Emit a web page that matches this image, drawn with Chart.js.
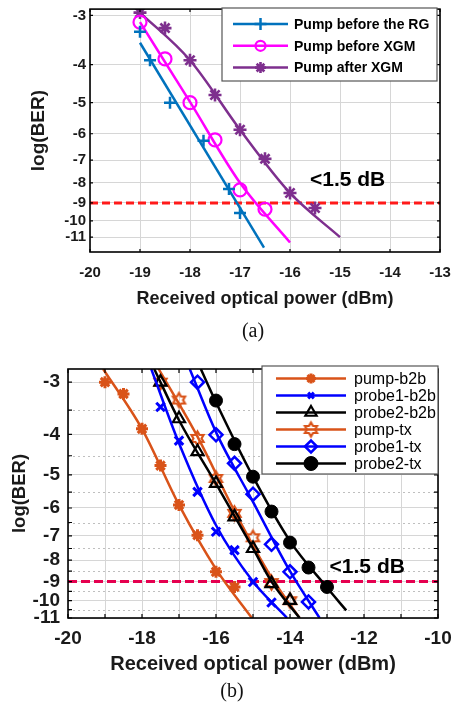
<!DOCTYPE html>
<html>
<head>
<meta charset="utf-8">
<script src="https://cdn.jsdelivr.net/npm/chart.js@4.4.1/dist/chart.umd.min.js"></script>
<style>
  body { margin: 0; background: #fff; width: 452px; height: 704px; position: relative; overflow: hidden; }
  canvas { position: absolute; left: 0; }
  #ca { top: 0; }
  #cb { top: 350px; }
  .cap { position: absolute; width: 80px; text-align: center; font: 20px "Liberation Serif", "Times New Roman", serif; line-height: 24px; color: #111; }
</style>
</head>
<body>
<canvas id="ca" width="452" height="320"></canvas>
<div class="cap" style="left:213px;top:318px">(a)</div>
<canvas id="cb" width="452" height="332"></canvas>
<div class="cap" style="left:192px;top:678px">(b)</div>
<script>
// ---- chart (a) : x = received power (dBm), y = log(BER)
var xTicksA = [-20, -19, -18, -17, -16, -15, -14, -13];
var yTicksA = [-3, -4, -5, -6, -7, -8, -9, -10, -11];

var rgX = [-19, -18.8, -18.4, -17.73, -17.22, -17];
var rgY = [-3.3, -3.9, -5.0, -6.25, -8.3, -9.55];
var rgFitX = [-19, -16.52];
var rgFitY = [-3.52, -11.7];

var xgmInX = [-19, -18.5, -18, -17.5, -17, -16.5];
var xgmInY = [-3.12, -3.87, -5.0, -6.22, -8.34, -9.34];
var xgmInFitX = [-19, -18, -17, -16];
var xgmInFitY = [-3.12, -4.98, -8.0, -11.35];

var xgmOutX = [-19, -18.5, -18, -17.5, -17, -16.5, -16, -15.5];
var xgmOutY = [-2.95, -3.23, -3.9, -4.78, -5.86, -6.95, -8.49, -9.27];
var xgmOutFitX = [-19, -18, -17, -16, -15];
var xgmOutFitY = [-2.95, -3.9, -5.86, -8.49, -11.0];

var fecAX = [-20, -13];
var fecAY = [-9, -9];

// ---- chart (b)
var xTicksB = [-20, -19, -18, -17, -16, -15, -14, -13, -12, -11, -10];
var yTicksB = [-3, -4, -5, -6, -7, -8, -9, -10, -11];
var yMinorB = [-3.5, -4.5, -5.5, -6.5, -7.5, -8.5, -9.5, -10.5];

var pumpB2bX = [-19, -18.5, -18, -17.5, -17, -16.5, -16, -15.5];
var pumpB2bY = [-3.0, -3.2, -3.88, -4.75, -5.9, -6.97, -8.53, -9.27];
var pumpB2bFitX = [-19.05, -18, -17, -16, -15.03];
var pumpB2bFitY = [-2.79, -3.88, -5.9, -8.4, -11.0];

var probe1B2bX = [-17.5, -17, -16.5, -16, -15.5, -15, -14.5];
var probe1B2bY = [-3.44, -4.14, -5.49, -6.84, -7.57, -9.02, -10.1];
var probe1B2bFitX = [-17.75, -17, -16, -15, -14.08];
var probe1B2bFitY = [-2.79, -4.2, -6.6, -9.0, -11.0];

var probe2B2bX = [-17.5, -17, -16.5, -16, -15.5, -15, -14.5, -14];
var probe2B2bY = [-3.0, -3.67, -4.4, -5.24, -6.3, -7.5, -9.1, -9.98];
var probe2B2bFitX = [-17.67, -17, -16, -15, -14.5, -13.74];
var probe2B2bFitY = [-2.79, -3.7, -5.25, -7.5, -9.0, -11.0];

var pumpTxX = [-17.5, -17, -16.5, -16, -15.5, -15, -14.5, -14];
var pumpTxY = [-3.0, -3.31, -4.09, -5.1, -6.18, -7.07, -9.05, -10.0];
var pumpTxFitX = [-17.55, -16.5, -15.5, -14.5, -13.74];
var pumpTxFitY = [-2.79, -4.05, -6.1, -8.8, -11.0];

var probe1TxX = [-16.5, -16, -15.5, -15, -14.5, -14, -13.5];
var probe1TxY = [-3.0, -4.01, -4.69, -5.56, -7.33, -8.53, -10.07];
var probe1TxFitX = [-16.71, -16, -15, -14, -13.2];
var probe1TxFitY = [-2.79, -3.95, -5.8, -8.5, -11.0];

var probe2TxX = [-16, -15.5, -15, -14.5, -14, -13.5, -13];
var probe2TxY = [-3.32, -4.22, -5.05, -6.12, -7.26, -8.33, -9.27];
var probe2TxFitX = [-16.41, -16, -15, -14, -13, -12.48];
var probe2TxFitY = [-2.79, -3.35, -5.05, -7.2, -9.3, -10.55];

var fecBX = [-20, -10];
var fecBY = [-9, -9];

var noteText = '<1.5 dB';
var noteA = { x: -15.6, y: -7.9 };
var noteB = { x: -12.93, y: -8.3 };

var sans = '"Liberation Sans", Arial, Helvetica, sans-serif';
Chart.defaults.font.family = sans;
Chart.defaults.color = '#1a1a1a';

// y is plotted as -log(BER) on a reversed log axis (BER scale)
function pts(xs, ys) {
  return xs.map(function (x, i) { return { x: x, y: -ys[i] }; });
}

function markers(label, xs, ys, color, style, r, bw, fill, legendR) {
  return {
    label: label, data: pts(xs, ys), showLine: false, inLegend: true,
    borderColor: color, backgroundColor: fill,
    pointStyle: style, pointRadius: r, pointHoverRadius: r,
    pointBorderWidth: bw, pointBorderColor: color, pointBackgroundColor: fill,
    legendRadius: legendR || r
  };
}

function fitLine(xs, ys, color) {
  return {
    data: pts(xs, ys), showLine: true, borderColor: color, borderWidth: 2.5,
    pointRadius: 0, pointHoverRadius: 0, cubicInterpolationMode: 'monotone', fill: false
  };
}

function dashed(xs, ys, color, dash) {
  return {
    data: pts(xs, ys), showLine: true, borderColor: color, borderWidth: 3,
    borderDash: dash, pointRadius: 0, pointHoverRadius: 0, fill: false
  };
}

function hexagram(r, color, lw) {
  var c = document.createElement('canvas');
  var s = Math.ceil(2 * r + lw + 2);
  c.width = s; c.height = s;
  var g = c.getContext('2d');
  var m = s / 2;
  g.strokeStyle = color; g.lineWidth = lw; g.lineJoin = 'miter';
  g.beginPath();
  for (var k = 0; k < 12; k++) {
    var a = -Math.PI / 2 + k * Math.PI / 6;
    var rr = k % 2 ? r / Math.sqrt(3) : r;
    var px = m + rr * Math.cos(a), py = m + rr * Math.sin(a);
    if (k) g.lineTo(px, py); else g.moveTo(px, py);
  }
  g.closePath();
  g.stroke();
  return c;
}

// black box, inside tick marks, minor dotted grid
var frameBox = {
  id: 'frameBox',
  beforeDatasetsDraw: function (chart, args, o) {
    if (!o.minorY) return;
    var ctx = chart.ctx, a = chart.chartArea, ys = chart.scales.y;
    ctx.save();
    ctx.strokeStyle = o.minorColor; ctx.lineWidth = 1; ctx.setLineDash([2, 3]);
    o.minorY.forEach(function (v) {
      var y = Math.round(ys.getPixelForValue(-v)) + 0.5;
      ctx.beginPath(); ctx.moveTo(a.left, y); ctx.lineTo(a.right, y); ctx.stroke();
    });
    ctx.restore();
  },
  afterDatasetsDraw: function (chart, args, o) {
    var ctx = chart.ctx, a = chart.chartArea, xs = chart.scales.x, ys = chart.scales.y;
    var len = o.tick;
    ctx.save();
    ctx.strokeStyle = '#000'; ctx.lineWidth = 1.2;
    ctx.beginPath();
    xs.ticks.forEach(function (t) {
      var x = xs.getPixelForValue(t.value);
      ctx.moveTo(x, a.bottom); ctx.lineTo(x, a.bottom - len);
      ctx.moveTo(x, a.top); ctx.lineTo(x, a.top + len);
    });
    o.yAll.forEach(function (v) {
      var y = ys.getPixelForValue(-v);
      ctx.moveTo(a.left, y); ctx.lineTo(a.left + len, y);
      ctx.moveTo(a.right, y); ctx.lineTo(a.right - len, y);
    });
    ctx.stroke();
    ctx.lineWidth = 1.6;
    ctx.strokeRect(a.left, a.top, a.right - a.left, a.bottom - a.top);
    ctx.restore();
  }
};

var noteLabel = {
  id: 'noteLabel',
  afterDatasetsDraw: function (chart, args, o) {
    var ctx = chart.ctx;
    ctx.save();
    ctx.fillStyle = '#000';
    ctx.font = 'bold ' + o.size + 'px ' + sans;
    ctx.textAlign = 'left'; ctx.textBaseline = 'middle';
    ctx.fillText(o.text, chart.scales.x.getPixelForValue(o.at.x), chart.scales.y.getPixelForValue(-o.at.y));
    ctx.restore();
  }
};

// MATLAB style legend box: line + marker + label
var boxLegend = {
  id: 'boxLegend',
  afterDraw: function (chart, args, o) {
    var ctx = chart.ctx;
    var items = chart.data.datasets.filter(function (d) { return d.inLegend; });
    ctx.save();
    ctx.fillStyle = '#fff';
    ctx.fillRect(o.left, o.top, o.right - o.left, o.bottom - o.top);
    ctx.strokeStyle = '#555'; ctx.lineWidth = 1.2;
    ctx.strokeRect(o.left, o.top, o.right - o.left, o.bottom - o.top);
    items.forEach(function (d, i) {
      var y = o.row0 + i * o.rowH;
      ctx.strokeStyle = d.borderColor; ctx.lineWidth = 2.5; ctx.setLineDash([]);
      ctx.beginPath(); ctx.moveTo(o.line0, y); ctx.lineTo(o.line1, y); ctx.stroke();
      ctx.fillStyle = d.pointBackgroundColor; ctx.lineWidth = d.pointBorderWidth;
      Chart.helpers.drawPoint(ctx, { pointStyle: d.pointStyle, radius: d.legendRadius, rotation: 0, borderWidth: d.pointBorderWidth }, (o.line0 + o.line1) / 2, y);
      ctx.fillStyle = '#000';
      ctx.font = o.font;
      ctx.textAlign = 'left'; ctx.textBaseline = 'middle';
      ctx.fillText(d.label, o.text, y + 1);
    });
    ctx.restore();
  }
};

function xScale(ticks, min, max, size, titleSize, height, pad, titlePad, every) {
  return {
    type: 'linear', min: min, max: max,
    afterBuildTicks: function (s) { s.ticks = ticks.map(function (v) { return { value: v }; }); },
    afterFit: function (s) { s.height = height; s.paddingLeft = 0; s.paddingRight = 0; },
    ticks: {
      autoSkip: false, maxRotation: 0, padding: pad, color: '#1a1a1a',
      font: { size: size, weight: 'bold' },
      callback: function (v) { return v % every === 0 ? String(v) : ''; }
    },
    grid: { color: '#d6d6d6', drawTicks: false, lineWidth: 1 },
    border: { display: false },
    title: {
      display: true, text: 'Received optical power (dBm)', color: '#1a1a1a',
      font: { size: titleSize, weight: 'bold' }, padding: { top: 0, bottom: titlePad }
    }
  };
}

function yScale(ticks, min, max, size, titleSize, width, pad, titlePad) {
  return {
    type: 'logarithmic', reverse: true, min: min, max: max,
    afterBuildTicks: function (s) { s.ticks = ticks.map(function (v) { return { value: -v }; }); },
    afterFit: function (s) { s.width = width; s.paddingTop = 0; s.paddingBottom = 0; },
    ticks: {
      autoSkip: false, padding: pad, color: '#1a1a1a',
      font: { size: size, weight: 'bold' },
      callback: function (v) { return String(-v); }
    },
    grid: { color: '#d6d6d6', drawTicks: false, lineWidth: 1 },
    border: { display: false },
    title: {
      display: true, text: 'log(BER)', color: '#1a1a1a',
      font: { size: titleSize, weight: 'bold' }, padding: { top: titlePad, bottom: 0 }
    }
  };
}

var blueA = '#0072bd', magenta = '#ff00ff', purple = '#7e2f8e';

new Chart(document.getElementById('ca'), {
  type: 'scatter',
  data: {
    datasets: [
      markers('Pump before the RG', rgX, rgY, blueA, 'cross', 6, 2.5, 'transparent', 6),
      fitLine(rgFitX, rgFitY, blueA),
      markers('Pump before XGM', xgmInX, xgmInY, magenta, 'circle', 6.5, 2.2, 'transparent', 5),
      fitLine(xgmInFitX, xgmInFitY, magenta),
      markers('Pump after XGM', xgmOutX, xgmOutY, purple, 'star', 6.5, 2.6, purple, 5.5),
      fitLine(xgmOutFitX, xgmOutFitY, purple),
      dashed(fecAX, fecAY, '#ff1a1a', [8, 4])
    ]
  },
  options: {
    responsive: false, animation: false, events: [],
    layout: { padding: { top: 6, right: 12, left: 0, bottom: 0 } },
    plugins: {
      legend: { display: false }, tooltip: { enabled: false },
      frameBox: { tick: 3, yAll: yTicksA },
      noteLabel: { text: noteText, at: noteA, size: 21 },
      boxLegend: { left: 222, top: 8, right: 437, bottom: 81, row0: 24, rowH: 21.8,
        line0: 233, line1: 288, text: 294, font: 'bold 14px ' + sans }
    },
    scales: {
      x: xScale(xTicksA, -20, -13, 15, 18, 68, 12, 10, 1),
      y: yScale(yTicksA, 2.89, 12, 15, 19, 90, 4, 27)
    }
  },
  plugins: [frameBox, noteLabel, boxLegend]
});

var orange = '#d95319', blueB = '#0000ff', black = '#000000';

new Chart(document.getElementById('cb'), {
  type: 'scatter',
  data: {
    datasets: [
      markers('pump-b2b', pumpB2bX, pumpB2bY, orange, 'star', 6, 3, orange, 5),
      fitLine(pumpB2bFitX, pumpB2bFitY, orange),
      markers('probe1-b2b', probe1B2bX, probe1B2bY, blueB, 'crossRot', 6, 3, 'transparent', 4),
      fitLine(probe1B2bFitX, probe1B2bFitY, blueB),
      markers('probe2-b2b', probe2B2bX, probe2B2bY, black, 'triangle', 7, 2.2, 'transparent', 6.5),
      fitLine(probe2B2bFitX, probe2B2bFitY, black),
      markers('pump-tx', pumpTxX, pumpTxY, orange, hexagram(7, orange, 2.2), 7, 2.2, 'transparent', 7),
      fitLine(pumpTxFitX, pumpTxFitY, orange),
      markers('probe1-tx', probe1TxX, probe1TxY, blueB, 'rectRot', 6.5, 2.5, 'transparent', 6),
      fitLine(probe1TxFitX, probe1TxFitY, blueB),
      markers('probe2-tx', probe2TxX, probe2TxY, black, 'circle', 6.5, 1, black, 7),
      fitLine(probe2TxFitX, probe2TxFitY, black),
      dashed(fecBX, fecBY, '#e5004f', [9, 4])
    ]
  },
  options: {
    responsive: false, animation: false, events: [],
    layout: { padding: { top: 19, right: 14, left: 0, bottom: 0 } },
    plugins: {
      legend: { display: false }, tooltip: { enabled: false },
      frameBox: { tick: 4, yAll: yTicksB.concat(yMinorB), minorY: yMinorB, minorColor: '#bfbfbf' },
      noteLabel: { text: noteText, at: noteB, size: 21 },
      boxLegend: { left: 262, top: 16, right: 438, bottom: 124, row0: 28.5, rowH: 17,
        line0: 276, line1: 346, text: 354, font: '16px ' + sans }
    },
    scales: {
      x: xScale(xTicksB, -20, -10, 19, 20, 64, 9, 6, 2),
      y: yScale(yTicksB, 2.79, 11, 19, 18.5, 68, 8, 9)
    }
  },
  plugins: [frameBox, noteLabel, boxLegend]
});
</script>
</body>
</html>
